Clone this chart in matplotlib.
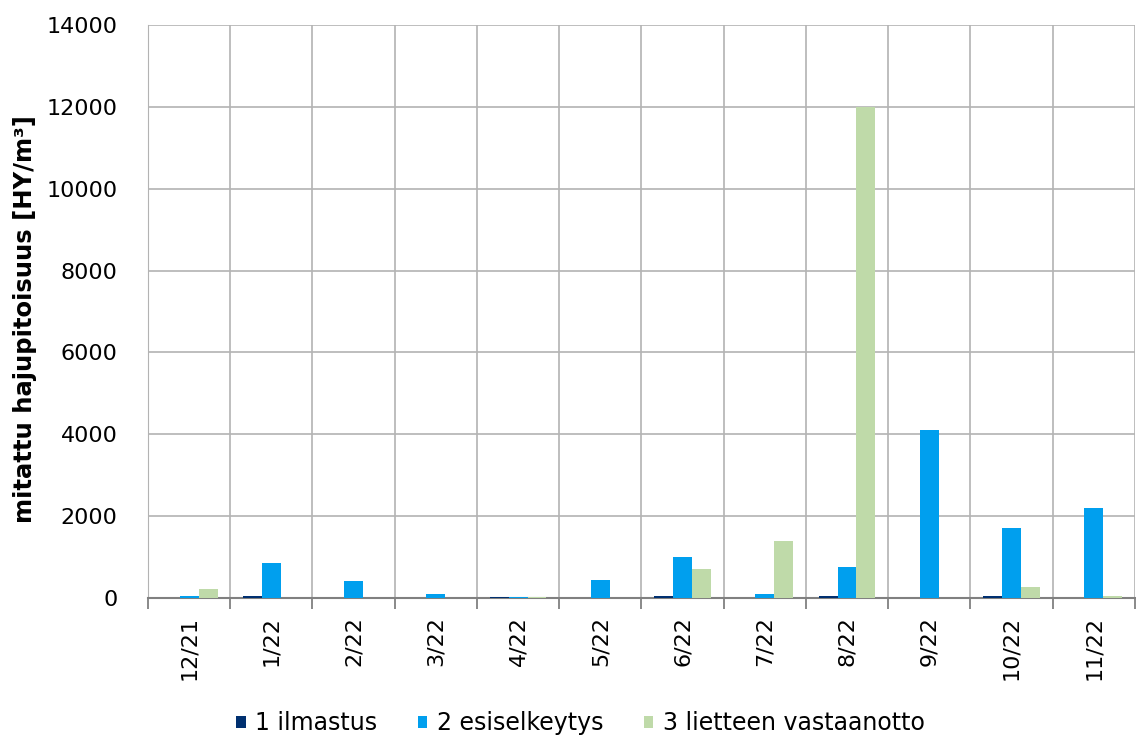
import matplotlib.pyplot as plt
import numpy as np

# kuukausittaiset hajunäytteet
kuukaudet = ['12/21', '1/22', '2/22', '3/22', '4/22', '5/22',
             '6/22', '7/22', '8/22', '9/22', '10/22', '11/22']
ilmastus = [10, 40, 10, 10, 15, 10, 50, 10, 40, 10, 40, 10]
esiselkeytys = [60, 850, 410, 90, 15, 440, 1000, 100, 760, 4100, 1700, 2200]
vastaanotto = [210, 10, 10, 10, 15, 10, 710, 1400, 12000, 10, 270, 60]

sarjat = ['1 ilmastus', '2 esiselkeytys', '3 lietteen vastaanotto']
varit = ['#003070', '#009fee', '#bfdaa9']

plt.rcParams['font.family'] = 'DejaVu Sans'

fig = plt.figure(figsize=(11.36, 7.36), dpi=100)
ax = fig.add_axes([0.1303, 0.1875, 0.8687, 0.7785])

x = np.arange(len(kuukaudet))
w = 0.23
for i, (arvot, nimi, c) in enumerate(zip([ilmastus, esiselkeytys, vastaanotto], sarjat, varit)):
    ax.bar(x + (i - 1) * w, arvot, w, color=c, label=nimi, zorder=3)

ax.set_xlim(-0.5, len(kuukaudet) - 0.5)
ax.set_ylim(0, 14000)
ax.set_yticks(np.arange(0, 14001, 2000))
ax.set_xticks(x)
ax.set_xticklabels(kuukaudet, rotation=90, fontsize=16)
ax.set_xticks(np.arange(-0.5, len(kuukaudet), 1), minor=True)
ax.tick_params(axis='x', which='major', length=0, pad=13)
ax.tick_params(axis='x', which='minor', length=8, color='#808080', width=1.3)
ax.tick_params(axis='y', length=0, labelsize=16, pad=22)

ax.grid(axis='y', color='#b3b3b3', lw=1.2, zorder=0)
ax.grid(axis='x', which='minor', color='#b3b3b3', lw=1.2, zorder=0)
for s in ['top', 'right']:
    ax.spines[s].set_visible(False)
ax.spines['left'].set_color('#b3b3b3')
ax.spines['bottom'].set_color('#808080')
ax.spines['bottom'].set_linewidth(1.5)

ax.set_ylabel('mitattu hajupitoisuus [HY/m³]', fontsize=17.5, fontweight='bold')
ax.yaxis.set_label_coords(-0.112, 0.487)

fig.legend(loc='lower center', bbox_to_anchor=(0.511, -0.028), ncol=3, frameon=False,
           fontsize=17, handlelength=0.4, handleheight=0.4, handletextpad=0.42,
           columnspacing=1.7)

fig.savefig('out.png', dpi=100)
